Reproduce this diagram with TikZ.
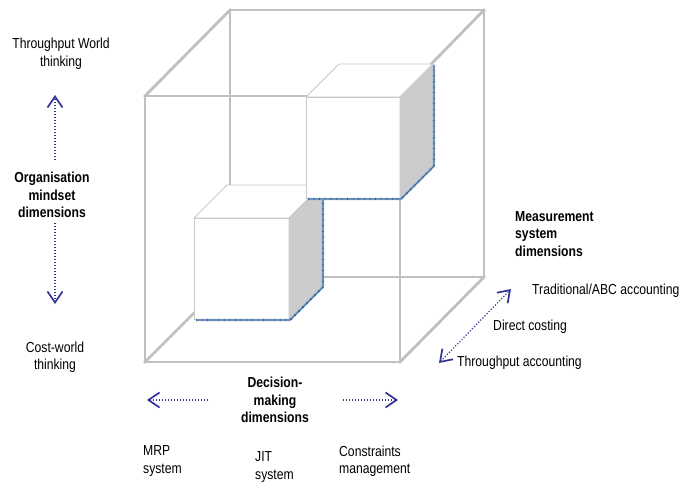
\documentclass[tikz,border=0pt]{standalone}
\usepackage{fontspec}
\setmainfont{Liberation Sans}[FakeStretch=0.84]
\usetikzlibrary{arrows.meta}
\definecolor{bigedge}{HTML}{C0C0C0}
\definecolor{smalledge}{HTML}{C8C8C8}
\definecolor{sidefill}{HTML}{CCCCCC}
\definecolor{arrowblue}{HTML}{333399}
\definecolor{bandblue}{HTML}{8FB0D6}
\definecolor{tickblue}{HTML}{2E5A8C}
\tikzset{
  bigline/.style={draw=bigedge, line width=2.8pt, line cap=rect, line join=miter},
  cubeline/.style={draw=smalledge, line width=0.9pt, line join=miter},
  sideface/.style={fill=sidefill, draw=smalledge, line width=0.9pt},
  bluebandline/.style={draw=bandblue, line width=2.2pt},
  bluetick/.style={draw=tickblue, line width=0.6pt},
  blueticks/.style={draw=tickblue, line width=2.4pt, dash pattern=on 0.6pt off 5pt},
  tipv/.tip={Straight Barb[length=11pt,width=15pt,line width=1.7pt]},
  dimarrow/.style={draw=arrowblue, line width=1.2pt, dash pattern=on 1.2pt off 1.8pt,
    arrows={-tipv}},
  dimarrowboth/.style={dimarrow, arrows={tipv-tipv}},
  lbl/.style={inner sep=0pt, font=\fontsize{14.5}{17.5}\selectfont, align=center},
  lblb/.style={lbl, font=\fontsize{14.5}{17.5}\selectfont\bfseries},
}
\begin{document}
\begin{tikzpicture}[x=1pt,y=-1pt]
\useasboundingbox (0,0) rectangle (680,484);
% big cube: back face and depth edges
\draw[bigline] (230,10) rectangle (484,277);
\draw[bigline] (145,96) -- (230,10);
\draw[bigline] (400,96) -- (484,10);
\draw[bigline] (145,362) -- (230,277);
\draw[bigline] (400,362) -- (484,277);
% big cube front face
\draw[bigline] (145,96) rectangle (400,362);

% small cube 1 (lower-left)
\filldraw[cubeline, fill=white] (194,218) rectangle (289,319);
\filldraw[cubeline, fill=white] (194,218) -- (227,185) -- (322,185) -- (289,218) -- cycle;
\filldraw[sideface] (289,218) -- (322,185) -- (322,286) -- (289,319) -- cycle;
\draw[bluebandline] (196,320) -- (290,320) -- (323,287) -- (323,186);
\draw[blueticks] (196,320) -- (290,320) -- (323,287) -- (323,186);
\draw[bluetick] (196,320) -- (290,320) -- (323,287) -- (323,186);

% small cube 2 (upper-right)
\filldraw[cubeline, fill=white] (306,97) rectangle (400,198);
\filldraw[cubeline, fill=white] (306,97) -- (339,64) -- (433,64) -- (400,97) -- cycle;
\filldraw[sideface] (400,97) -- (433,64) -- (433,165) -- (400,198) -- cycle;
\draw[bluebandline] (308,199) -- (401,199) -- (434,166) -- (434,65);
\draw[blueticks] (308,199) -- (401,199) -- (434,166) -- (434,65);
\draw[bluetick] (308,199) -- (401,199) -- (434,166) -- (434,65);

% organisation mindset dimension
\node[lbl] (tw) at (61,54) {Throughput World\\thinking};
\node[lblb] (om) at (52,195) {Organisation\\mindset\\dimensions};
\node[lbl] (cw) at (55,357) {Cost-world\\thinking};
\coordinate (upS) at (55,160);
\coordinate (upE) at (55,95);
\coordinate (dnS) at (55,223);
\coordinate (dnE) at (55,304);
\draw[dimarrow] (upS) -- (upE);
\draw[dimarrow] (dnS) -- (dnE);

% decision-making dimension
\node[lblb] (dm) at (275,400) {Decision-\\making\\dimensions};
\coordinate (lfS) at (208,400);
\coordinate (lfE) at (147,400);
\coordinate (rtS) at (343,400);
\coordinate (rtE) at (398,400);
\draw[dimarrow] (lfS) -- (lfE);
\draw[dimarrow] (rtS) -- (rtE);
\node[lbl, anchor=west, align=left] (mrp) at (143,461) {MRP\\system};
\node[lbl, anchor=west, align=left] (jit) at (255,467) {JIT\\system};
\node[lbl, anchor=west, align=left] (cm) at (339,461) {Constraints\\management};

% measurement system dimension
\node[lblb, anchor=west, align=left] (ms) at (515,234) {Measurement\\system\\dimensions};
\node[lbl, anchor=west] (tabc) at (532,291) {Traditional/ABC accounting};
\node[lbl, anchor=west] (dc) at (493,327) {Direct costing};
\node[lbl, anchor=west] (ta) at (457,363) {Throughput accounting};
\coordinate (dgA) at (439,363);
\coordinate (dgB) at (511,289);
\draw[dimarrowboth] (dgA) -- (dgB);
\end{tikzpicture}
\end{document}
